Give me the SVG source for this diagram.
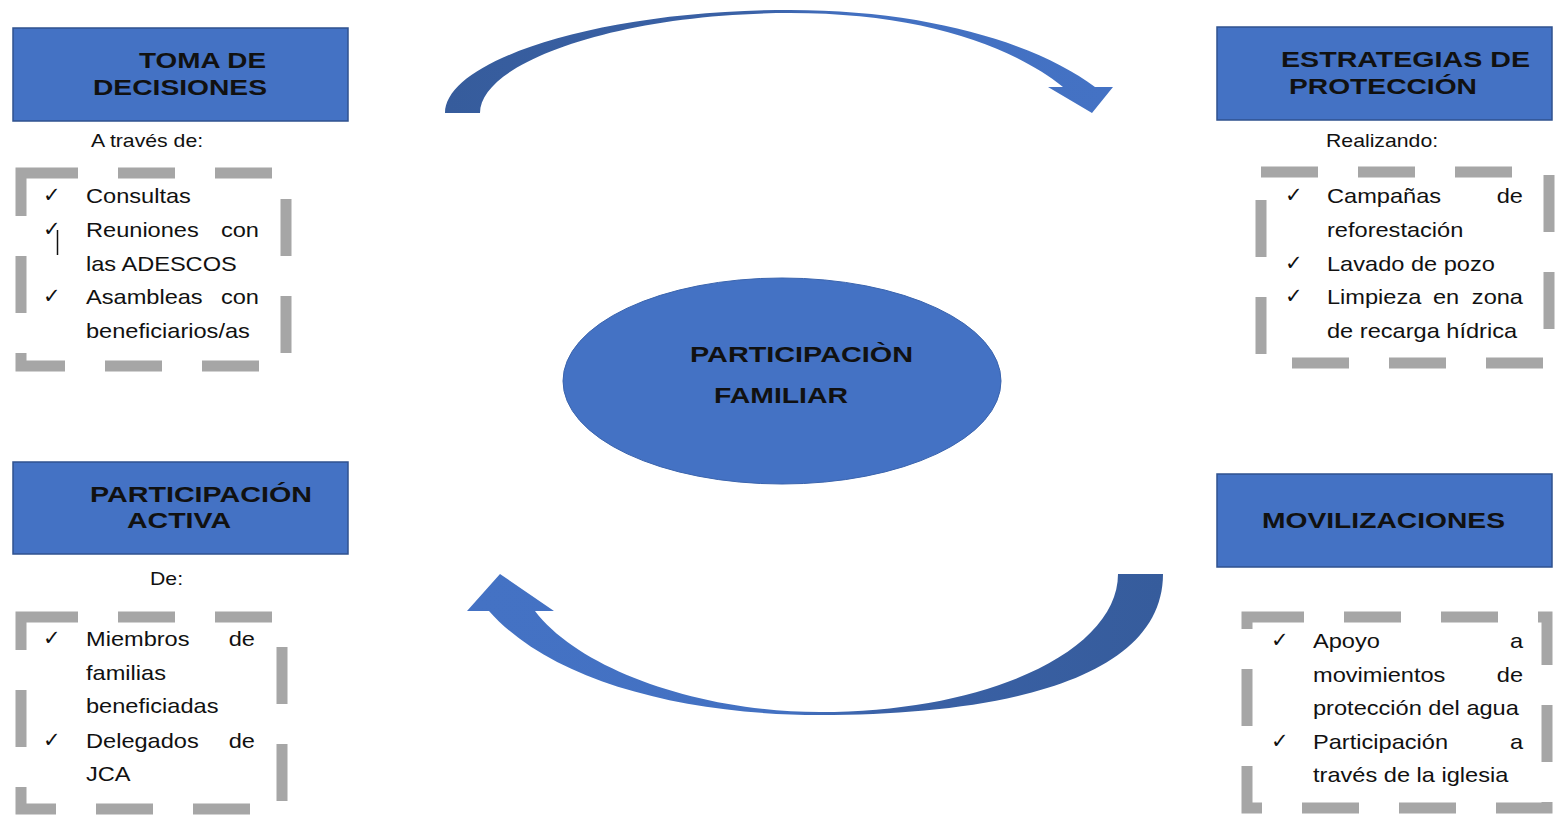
<svg xmlns="http://www.w3.org/2000/svg" width="1556" height="824" viewBox="0 0 1556 824">
<defs>
<style>
.box{fill:#4472C4;stroke:#2F528F;stroke-width:1.5}
.title{font-family:"Liberation Sans",Arial,sans-serif;font-weight:bold;font-size:22px;fill:#111}
.sub{font-family:"Liberation Sans",Arial,sans-serif;font-size:18px;fill:#111}
.item{font-family:"Liberation Sans",Arial,sans-serif;font-size:20px;fill:#111}
.chk{font-family:"DejaVu Sans",sans-serif;font-size:21px;fill:#111}
.dash{fill:none;stroke:#A6A6A6;stroke-width:11;stroke-dasharray:57 40}
</style>
<linearGradient id="gTop" gradientUnits="userSpaceOnUse" x1="445" y1="0" x2="1113" y2="0">
<stop offset="0" stop-color="#365C9C"/>
<stop offset="0.45" stop-color="#3A61A6"/>
<stop offset="0.62" stop-color="#4370C1"/>
<stop offset="1" stop-color="#4472C4"/>
</linearGradient>
<linearGradient id="gBot" gradientUnits="userSpaceOnUse" x1="467" y1="0" x2="1163" y2="0">
<stop offset="0" stop-color="#4472C4"/>
<stop offset="0.45" stop-color="#4371C2"/>
<stop offset="0.6" stop-color="#3A61A6"/>
<stop offset="1" stop-color="#365C9C"/>
</linearGradient>
</defs>
<rect width="1556" height="824" fill="#fff"/>

<g id="connectors">
<path d="M445,113 C445,60 600,10 790,10 C930,10 1040,45 1095,87 L1113,87 L1092,113 L1048,87 L1063,87 C1010,45 920,13 790,13 C620,13 480,62 480,113 Z" fill="url(#gTop)"/>
<path d="M1163,574 C1163,680 1000,715 820,715 C680,715 550,680 489,611 L467,611 L500,574 L554,611 L535,611 C580,670 700,712 820,712 C990,712 1118,650 1118,574 Z" fill="url(#gBot)"/>
</g>

<g id="center">
<ellipse cx="782" cy="381" rx="219" ry="103" fill="#4472C4" stroke="#3A64AE" stroke-width="1"/>
<text class="title" x="690" y="362" textLength="223" lengthAdjust="spacingAndGlyphs">PARTICIPACIÒN</text>
<text class="title" x="714" y="403" textLength="134" lengthAdjust="spacingAndGlyphs">FAMILIAR</text>
</g>

<g id="toma-decisiones">
<rect class="box" x="13" y="28" width="335" height="93"/>
<text class="title" x="139" y="68" textLength="127" lengthAdjust="spacingAndGlyphs">TOMA DE</text>
<text class="title" x="93" y="95" textLength="174" lengthAdjust="spacingAndGlyphs">DECISIONES</text>
<text class="sub" transform="matrix(1.18 0 0 1 91 147)">A través de:</text>
<rect class="dash" x="21" y="173" width="265" height="193"/>
<text class="chk" x="43" y="202">✓</text>
<text class="chk" x="43" y="236">✓</text>
<line x1="57.5" y1="230" x2="57.5" y2="255" stroke="#111" stroke-width="1.5"/>
<text class="chk" x="43" y="303">✓</text>
<g transform="matrix(1.18 0 0 1 86 0)">
<text class="item" x="0" y="203">Consultas</text>
<text class="item" x="0" y="237">Reuniones</text>
<text class="item" x="146.6" y="237" text-anchor="end">con</text>
<text class="item" x="0" y="271">las ADESCOS</text>
<text class="item" x="0" y="304">Asambleas</text>
<text class="item" x="146.6" y="304" text-anchor="end">con</text>
<text class="item" x="0" y="338">beneficiarios/as</text>
</g>
</g>

<g id="estrategias">
<rect class="box" x="1217" y="27" width="335" height="93"/>
<text class="title" x="1281" y="67" textLength="249" lengthAdjust="spacingAndGlyphs">ESTRATEGIAS DE</text>
<text class="title" x="1289" y="94" textLength="188" lengthAdjust="spacingAndGlyphs">PROTECCIÓN</text>
<text class="sub" transform="matrix(1.18 0 0 1 1326 147)">Realizando:</text>
<rect class="dash" x="1261" y="172" width="288" height="191"/>
<text class="chk" x="1285" y="202">✓</text>
<text class="chk" x="1285" y="270">✓</text>
<text class="chk" x="1285" y="303">✓</text>
<g transform="matrix(1.18 0 0 1 1327 0)">
<text class="item" x="0" y="203">Campañas</text>
<text class="item" x="166.1" y="203" text-anchor="end">de</text>
<text class="item" x="0" y="237">reforestación</text>
<text class="item" x="0" y="271">Lavado de pozo</text>
<text class="item" x="0" y="304">Limpieza</text>
<text class="item" x="89.8" y="304">en</text>
<text class="item" x="166.1" y="304" text-anchor="end">zona</text>
<text class="item" x="0" y="338">de recarga hídrica</text>
</g>
</g>

<g id="participacion-activa">
<rect class="box" x="13" y="462" width="335" height="92"/>
<text class="title" x="90" y="502" textLength="222" lengthAdjust="spacingAndGlyphs">PARTICIPACIÓN</text>
<text class="title" x="127" y="528" textLength="104" lengthAdjust="spacingAndGlyphs">ACTIVA</text>
<text class="sub" transform="matrix(1.18 0 0 1 150 585)">De:</text>
<rect class="dash" x="21" y="617" width="261" height="192"/>
<text class="chk" x="43" y="645">✓</text>
<text class="chk" x="43" y="747">✓</text>
<g transform="matrix(1.18 0 0 1 86 0)">
<text class="item" x="0" y="646">Miembros</text>
<text class="item" x="143.2" y="646" text-anchor="end">de</text>
<text class="item" x="0" y="680">familias</text>
<text class="item" x="0" y="713">beneficiadas</text>
<text class="item" x="0" y="748">Delegados</text>
<text class="item" x="143.2" y="748" text-anchor="end">de</text>
<text class="item" x="0" y="781">JCA</text>
</g>
</g>

<g id="movilizaciones">
<rect class="box" x="1217" y="474" width="335" height="93"/>
<text class="title" x="1262" y="528" textLength="243" lengthAdjust="spacingAndGlyphs">MOVILIZACIONES</text>
<rect class="dash" x="1247" y="617" width="300" height="191"/>
<text class="chk" x="1271" y="647">✓</text>
<text class="chk" x="1271" y="748">✓</text>
<g transform="matrix(1.18 0 0 1 1313 0)">
<text class="item" x="0" y="648">Apoyo</text>
<text class="item" x="178" y="648" text-anchor="end">a</text>
<text class="item" x="0" y="682">movimientos</text>
<text class="item" x="178" y="682" text-anchor="end">de</text>
<text class="item" x="0" y="715">protección del agua</text>
<text class="item" x="0" y="749">Participación</text>
<text class="item" x="178" y="749" text-anchor="end">a</text>
<text class="item" x="0" y="782">través de la iglesia</text>
</g>
</g>
</svg>
